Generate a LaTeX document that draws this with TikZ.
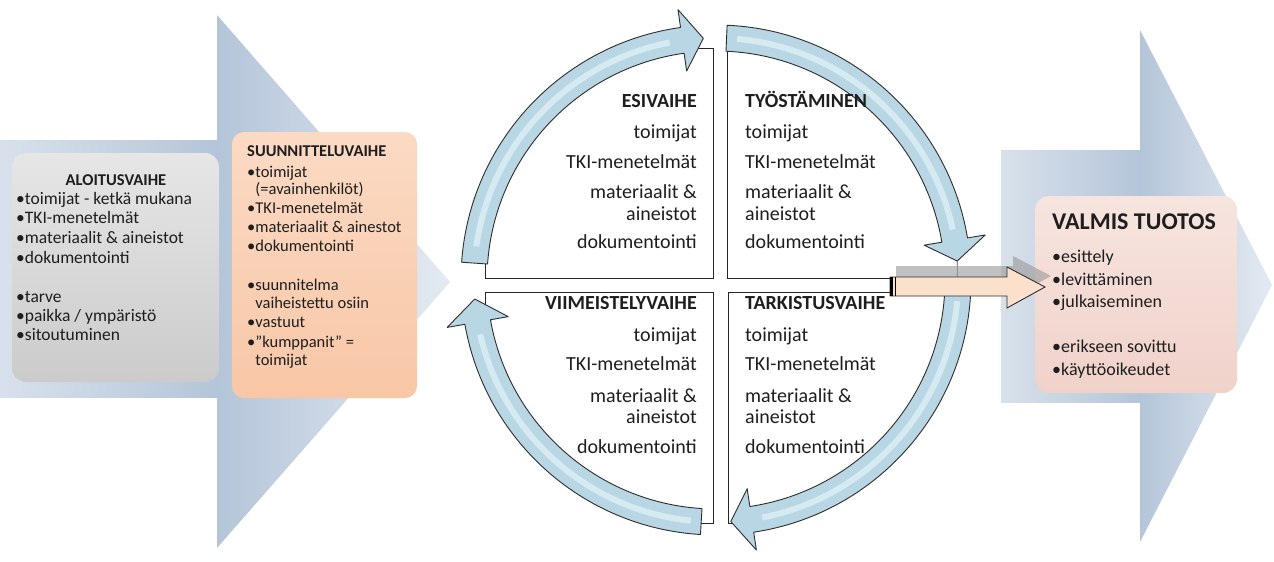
\documentclass[tikz,border=0pt]{standalone}
\usepackage{fontspec}
\setmainfont{Carlito}
\definecolor{bigA}{HTML}{B4C5D9}
\definecolor{bigB}{HTML}{D8E1EB}
\definecolor{bigC}{HTML}{E4EAF1}
\definecolor{ringfill}{HTML}{B8D6E3}
\definecolor{ringhlc}{HTML}{D6EAF2}
\definecolor{ringlinec}{HTML}{2E2E2E}
\definecolor{orfill}{HTML}{FBE1CB}
\definecolor{greyT}{HTML}{E6E6E6}
\definecolor{greyM}{HTML}{F3F3F3}
\definecolor{greyB}{HTML}{CBCBCB}
\definecolor{oraT}{HTML}{FBDAC4}
\definecolor{oraB}{HTML}{F8C7A6}
\definecolor{pinkT}{HTML}{F7E4DF}
\definecolor{pinkB}{HTML}{F0D2CA}
\definecolor{txt}{HTML}{1E1E1E}
\def\Ro{255}\def\Ri{229}\def\Rm{242}\def\Rho{273}\def\Rhi{211}
\newcommand{\ringpath}[3]{([shift={(C)}]#1:\Ro) arc[start angle=#1,end angle=#2,radius=\Ro] -- ([shift={(C)}]#2:\Rho) -- ([shift={(C)}]#3:\Rm) -- ([shift={(C)}]#2:\Rhi) -- ([shift={(C)}]#2:\Ri) arc[start angle=#2,end angle=#1,radius=\Ri] -- cycle}
\newcommand{\ringarrow}[5]{%
  \fill[ringfill] \ringpath{#1}{#2}{#3};
  \draw[ringhl] ([shift={(C)}]#4:\Rm) arc[start angle=#4,end angle=#5,radius=\Rm];
  \draw[ringline] \ringpath{#1}{#2}{#3};
}
\newcommand{\tline}[5]{\node[#1] (#2) at (#3,#4) {#5};}
\begin{document}
\begin{tikzpicture}[x=1pt,y=-1pt,
  ringhl/.style={line width=6pt, draw=ringhlc},
  ringline/.style={line width=0.9pt, draw=ringlinec, line join=round},
  qbox/.style={line width=1pt, draw=black!85},
  qtext/.style={font=\fontsize{20}{22}\selectfont, text=txt, inner sep=0pt},
  qtitle/.style={font=\fontsize{20}{22}\selectfont\bfseries, text=txt, inner sep=0pt},
  gtext/.style={font=\fontsize{17.5}{19}\selectfont, text=txt, inner sep=0pt, anchor=mid west},
  gtitle/.style={font=\fontsize{16.5}{19}\selectfont\bfseries, text=txt, inner sep=0pt, anchor=mid},
  otext/.style={font=\fontsize{16.5}{19}\selectfont, text=txt, inner sep=0pt, anchor=mid west},
  otitle/.style={font=\fontsize{16.5}{19}\selectfont\bfseries, text=txt, inner sep=0pt, anchor=mid west},
  vtext/.style={font=\fontsize{18}{21}\selectfont, text=txt, inner sep=0pt, anchor=mid west},
  vtitle/.style={font=\fontsize{24}{26}\selectfont\bfseries, text=txt, inner sep=0pt, anchor=mid west},
  card/.style={inner sep=0pt, draw=none}]
\useasboundingbox (0,0) rectangle (1274,562);
\fill[white] (0,0) rectangle (1274,562);
% big left arrow
\shade[left color=bigB, right color=bigA] (0,140) rectangle (218,397);
\shade[left color=bigA, right color=bigC] (217,15) -- (450,282) -- (217,548) -- cycle;
% big right arrow
\shade[left color=bigB, right color=bigA] (1001,150) rectangle (1141,402);
\shade[left color=bigA, right color=bigC] (1140,30) -- (1272,285) -- (1140,542) -- cycle;
% cards
\node[card, rounded corners=14pt, top color=greyT, middle color=greyM, bottom color=greyB,
  minimum width=207pt, minimum height=229pt] (alo) at (115.5,267.5) {};
\node[card, rounded corners=12pt, top color=oraT, bottom color=oraB,
  minimum width=185pt, minimum height=266pt] (suu) at (324.5,265) {};
\node[card, rounded corners=14pt, top color=pinkT, bottom color=pinkB,
  minimum width=202pt, minimum height=197pt] (val) at (1136,294.5) {};
% grey card text
\tline{gtitle}{a0}{116}{183}{ALOITUSVAIHE}
\tline{gtext}{a1}{16}{202}{•toimijat - ketkä mukana}
\tline{gtext}{a2}{16}{221}{•TKI-menetelmät}
\tline{gtext}{a3}{16}{241}{•materiaalit \& aineistot}
\tline{gtext}{a4}{16}{261}{•dokumentointi}
\tline{gtext}{a5}{16}{300}{•tarve}
\tline{gtext}{a6}{16}{319}{•paikka / ympäristö}
\tline{gtext}{a7}{16}{338}{•sitoutuminen}
% orange card text
\tline{otitle}{o0}{247}{154}{SUUNNITTELUVAIHE}
\tline{otext}{o1}{247}{175}{•toimijat}
\tline{otext}{o2}{247}{192}{\phantom{•}(=avainhenkilöt)}
\tline{otext}{o3}{247}{211}{•TKI-menetelmät}
\tline{otext}{o4}{247}{230}{•materiaalit \& ainestot}
\tline{otext}{o5}{247}{249}{•dokumentointi}
\tline{otext}{o6}{247}{288}{•suunnitelma}
\tline{otext}{o7}{247}{306}{\phantom{•}vaiheistettu osiin}
\tline{otext}{o8}{247}{325}{•vastuut}
\tline{otext}{o9}{247}{345}{•”kumppanit” =}
\tline{otext}{o10}{247}{363}{\phantom{•}toimijat}
% final card text
\tline{vtitle}{v0}{1052}{227}{VALMIS TUOTOS}
\tline{vtext}{v1}{1052}{260}{•esittely}
\tline{vtext}{v2}{1052}{283}{•levittäminen}
\tline{vtext}{v3}{1052}{305}{•julkaiseminen}
\tline{vtext}{v4}{1052}{350}{•erikseen sovittu}
\tline{vtext}{v5}{1052}{373}{•käyttöoikeudet}
% centre quadrants
\coordinate (C) at (716,280);
\begin{scope}
  \clip (C) circle (245);
  \draw[qbox] (485,48) rectangle (713,278);
  \draw[qbox] (727,48) rectangle (1000,278);
  \draw[qbox] (485,292) rectangle (713,523);
  \draw[qbox] (728,292) rectangle (1000,523);
\end{scope}
% cycle arrows
\ringarrow{-176}{-98}{-93}{-172}{-101}
\ringarrow{-87.5}{-9.5}{-4.5}{-85}{-12}
\ringarrow{2}{81.5}{86.5}{5}{79}
\ringarrow{93.5}{170}{175.5}{96}{167}
% link from cycle to result
\coordinate (tip2) at ([shift={(C)}]-4.5:\Rm);
\coordinate (barTop) at (957.3,277);
\draw[line width=0.7pt, black!70] (tip2) -- (barTop);
\fill[black!40, opacity=0.6] (896,266) -- (1013,266) -- (1013,256) -- (1051,276) -- (1013,297) -- (1013,285) -- (896,285) -- cycle;
\draw[line width=0.9pt, draw=ringlinec, fill=orfill, line join=miter]
  (890,277) -- (1007,277) -- (1007,267) -- (1045,287) -- (1007,308) -- (1007,296) -- (890,296) -- cycle;
\draw[line width=2.6pt, black] (891.6,277) -- (891.6,296);
\draw[line width=1.2pt, black] (895.8,277) -- (895.8,296);
% quadrant texts
\tline{qtitle,anchor=mid east}{ul0}{697}{105}{ESIVAIHE}
\tline{qtext,anchor=mid east}{ul1}{697}{136}{toimijat}
\tline{qtext,anchor=mid east}{ul2}{697}{166}{TKI-menetelmät}
\tline{qtext,anchor=mid east}{ul3}{697}{196}{materiaalit \&}
\tline{qtext,anchor=mid east}{ul4}{697}{218}{aineistot}
\tline{qtext,anchor=mid east}{ul5}{697}{246}{dokumentointi}
\tline{qtitle,anchor=mid west}{ur0}{745}{105}{TYÖSTÄMINEN}
\tline{qtext,anchor=mid west}{ur1}{745}{136}{toimijat}
\tline{qtext,anchor=mid west}{ur2}{745}{166}{TKI-menetelmät}
\tline{qtext,anchor=mid west}{ur3}{745}{196}{materiaalit \&}
\tline{qtext,anchor=mid west}{ur4}{745}{218}{aineistot}
\tline{qtext,anchor=mid west}{ur5}{745}{246}{dokumentointi}
\tline{qtitle,anchor=mid east}{ll0}{697}{307}{VIIMEISTELYVAIHE}
\tline{qtext,anchor=mid east}{ll1}{697}{339}{toimijat}
\tline{qtext,anchor=mid east}{ll2}{697}{368}{TKI-menetelmät}
\tline{qtext,anchor=mid east}{ll3}{697}{400}{materiaalit \&}
\tline{qtext,anchor=mid east}{ll4}{697}{421}{aineistot}
\tline{qtext,anchor=mid east}{ll5}{697}{451}{dokumentointi}
\tline{qtitle,anchor=mid west}{lr0}{745}{307}{TARKISTUSVAIHE}
\tline{qtext,anchor=mid west}{lr1}{745}{339}{toimijat}
\tline{qtext,anchor=mid west}{lr2}{745}{368}{TKI-menetelmät}
\tline{qtext,anchor=mid west}{lr3}{745}{400}{materiaalit \&}
\tline{qtext,anchor=mid west}{lr4}{745}{421}{aineistot}
\tline{qtext,anchor=mid west}{lr5}{745}{451}{dokumentointi}
\end{tikzpicture}
\end{document}
